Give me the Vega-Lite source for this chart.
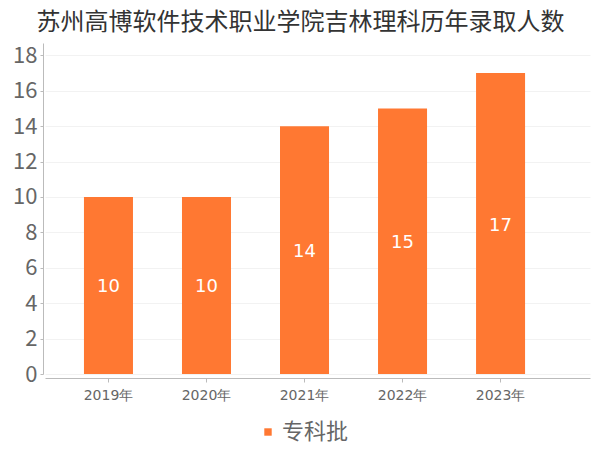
{
  "$schema": "https://vega.github.io/schema/vega-lite/v6.json",
  "autosize": {"type": "none"},
  "width": 545,
  "height": 331,
  "padding": {"left": 45, "top": 43, "right": 10, "bottom": 76},
  "background": "#ffffff",
  "title": {
    "text": "苏州高博软件技术职业学院吉林理科历年录取人数",
    "fontSize": 24,
    "font": "Noto Sans CJK SC",
    "fontWeight": "normal",
    "color": "#333333",
    "anchor": "middle",
    "dx": -17,
    "offset": 8
  },
  "config": {
    "view": {"stroke": null},
    "font": "Noto Sans CJK SC"
  },
  "data": {
    "values": [
      {"year": "2019年", "count": 10, "batch": "专科批"},
      {"year": "2020年", "count": 10, "batch": "专科批"},
      {"year": "2021年", "count": 14, "batch": "专科批"},
      {"year": "2022年", "count": 15, "batch": "专科批"},
      {"year": "2023年", "count": 17, "batch": "专科批"}
    ]
  },
  "encoding": {
    "x": {
      "field": "year",
      "type": "nominal",
      "sort": null,
      "scale": {"paddingInner": 0.5, "paddingOuter": 0.53, "align": 0.375},
      "axis": {
        "title": null,
        "labelAngle": 0,
        "labelFontSize": 14,
        "labelColor": "#666666",
        "labelFont": "DejaVu Sans",
        "labelPadding": 6,
        "domainColor": "#bbbbbb",
        "tickColor": "#bbbbbb",
        "tickSize": 4,
        "offset": 4,
        "grid": false
      }
    }
  },
  "layer": [
    {
      "mark": {"type": "bar"},
      "encoding": {
        "y": {
          "field": "count",
          "type": "quantitative",
          "scale": {"domain": [0, 18.7], "nice": false},
          "axis": {
            "title": null,
            "values": [0, 2, 4, 6, 8, 10, 12, 14, 16, 18],
            "labelFontSize": 22,
            "labelColor": "#666666",
            "labelFont": "Noto Sans CJK SC",
            "labelPadding": 3,
            "domainColor": "#bbbbbb",
            "tickColor": "#bbbbbb",
            "tickSize": 3,
            "offset": 2,
            "gridColor": "#f2f2f2",
            "gridWidth": 1
          }
        },
        "color": {
          "field": "batch",
          "type": "nominal",
          "scale": {"range": ["#ff7832"]},
          "legend": {
            "title": null,
            "orient": "none",
            "legendX": 212,
            "legendY": 378,
            "symbolType": "square",
            "symbolSize": 55,
            "labelOffset": 3,
            "labelFontSize": 22,
            "labelColor": "#666666",
            "labelFont": "Noto Sans CJK SC"
          }
        }
      }
    },
    {
      "mark": {"type": "text", "color": "#ffffff", "fontSize": 18, "font": "DejaVu Sans", "baseline": "middle", "dy": 2},
      "encoding": {
        "y": {
          "field": "count",
          "type": "quantitative",
          "scale": {"domain": [0, 37.4], "nice": false},
          "axis": null
        },
        "text": {"field": "count", "type": "quantitative"}
      }
    }
  ],
  "resolve": {"scale": {"y": "independent"}}
}
